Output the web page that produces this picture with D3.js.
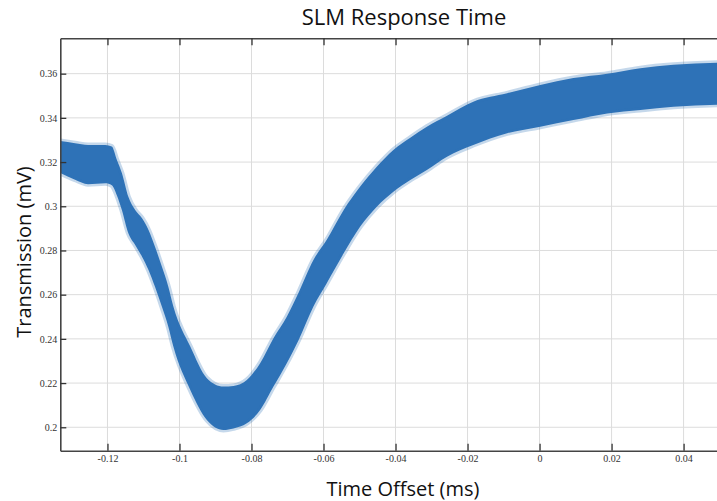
<!DOCTYPE html>
<html>
<head>
<meta charset="utf-8">
<script src="https://cdn.jsdelivr.net/npm/d3@7"></script>
<style>
  body { margin: 0; background: #fff; }
  .axis .tick text { font-family: "Liberation Serif", "Times New Roman", serif; font-size: 10px; fill: #333; }
  .axis path.domain { stroke: #444; stroke-width: 1.6px; }
  .axis .tick line { stroke: #333; stroke-width: 1.3px; }
  .grid line { stroke: #dcdcdc; stroke-width: 1px; }
  .label { font-family: "Open Sans", sans-serif; font-size: 20px; fill: #111; }
</style>
</head>
<body>
<svg id="chart" width="717" height="501"></svg>
<script>
// time offset (ms) with the upper / lower edge of the dense trace (mV)
const timeMs = [-0.1331, -0.1290, -0.1254, -0.1206, -0.1188, -0.1174, -0.1160, -0.1142, -0.1123, -0.1104,
  -0.1086, -0.1068, -0.1049, -0.1031, -0.1017, -0.0970, -0.0924, -0.0878, -0.0850, -0.0813,
  -0.0776, -0.0739, -0.0702, -0.0669, -0.0628, -0.0591, -0.0544, -0.0498, -0.0452, -0.0406,
  -0.0359, -0.0313, -0.0257, -0.0184, -0.0090, 0.0002, 0.0094, 0.0188, 0.0280, 0.0372, 0.0500];
const upperMv = [0.3295, 0.3285, 0.3277, 0.3277, 0.3270, 0.3210, 0.3150, 0.3043, 0.2983, 0.2946,
  0.2893, 0.2817, 0.2727, 0.2636, 0.2546, 0.2365, 0.2222, 0.2184, 0.2187, 0.2214,
  0.2290, 0.2403, 0.2500, 0.2610, 0.2757, 0.2848, 0.2983, 0.3089, 0.3179, 0.3255,
  0.3310, 0.3360, 0.3410, 0.3473, 0.3511, 0.3549, 0.3580, 0.3600, 0.3625, 0.3640, 0.3650];
const lowerMv = [0.3150, 0.3120, 0.3100, 0.3104, 0.3095, 0.3050, 0.2983, 0.2878, 0.2825, 0.2772,
  0.2712, 0.2636, 0.2546, 0.2455, 0.2365, 0.2169, 0.2033, 0.1988, 0.1995, 0.2018,
  0.2078, 0.2184, 0.2290, 0.2395, 0.2546, 0.2652, 0.2787, 0.2908, 0.2998, 0.3066,
  0.3119, 0.3164, 0.3224, 0.3277, 0.3330, 0.3360, 0.3390, 0.3420, 0.3436, 0.3450, 0.3460];

const xTicks = [-0.12, -0.1, -0.08, -0.06, -0.04, -0.02, 0, 0.02, 0.04];
const yTicks = [0.2, 0.22, 0.24, 0.26, 0.28, 0.3, 0.32, 0.34, 0.36];

const plot = { left: 60.3, right: 719.6, top: 38.3, bottom: 450.7 };

const x = d3.scaleLinear().domain([-0.1331, 0.05]).range([plot.left, plot.right]);
const y = d3.scaleLinear().domain([0.1894, 0.376]).range([plot.bottom, plot.top]);

const svg = d3.select("#chart");

svg.append("defs").append("clipPath")
  .attr("id", "plot-clip")
  .append("rect")
  .attr("x", plot.left)
  .attr("y", plot.top)
  .attr("width", plot.right - plot.left)
  .attr("height", plot.bottom - plot.top);

// grid
const grid = svg.append("g").attr("class", "grid");
grid.selectAll(".gx").data(xTicks).enter().append("line")
  .attr("x1", d => x(d)).attr("x2", d => x(d))
  .attr("y1", plot.top).attr("y2", plot.bottom);
grid.selectAll(".gy").data(yTicks).enter().append("line")
  .attr("x1", plot.left).attr("x2", plot.right)
  .attr("y1", d => y(d)).attr("y2", d => y(d));

// trace band
const trace = timeMs.map((t, i) => ({ t: t, hi: upperMv[i], lo: lowerMv[i] }));

const band = d3.area()
  .x(d => x(d.t))
  .y0(d => y(d.lo))
  .y1(d => y(d.hi))
  .curve(d3.curveMonotoneX);

svg.append("path")
  .datum(trace)
  .attr("clip-path", "url(#plot-clip)")
  .attr("d", band)
  .attr("fill", "#2e72b7")
  .attr("stroke", "#2e72b7")
  .attr("stroke-opacity", 0.28)
  .attr("stroke-width", 5)
  .attr("stroke-linejoin", "round");

// axes
const serif = '"Liberation Serif", "Times New Roman", serif';

svg.append("g")
  .attr("class", "axis")
  .attr("transform", `translate(0,${plot.bottom})`)
  .call(d3.axisBottom(x).tickValues(xTicks).tickFormat(String)
    .tickSizeInner(-7).tickSizeOuter(0).tickPadding(4))
  .attr("font-family", serif);

svg.append("g")
  .attr("class", "axis")
  .attr("transform", `translate(0,${plot.top})`)
  .call(d3.axisTop(x).tickValues(xTicks).tickFormat("")
    .tickSizeInner(-7).tickSizeOuter(0));

svg.append("g")
  .attr("class", "axis")
  .attr("transform", `translate(${plot.left},0)`)
  .call(d3.axisLeft(y).tickValues(yTicks).tickFormat(String)
    .tickSizeInner(-6).tickSizeOuter(0).tickPadding(3))
  .attr("font-family", serif);

// titles
svg.append("text")
  .attr("class", "label")
  .attr("x", 404).attr("y", 25)
  .attr("text-anchor", "middle")
  .style("font-size", "22px")
  .text("SLM Response Time");

svg.append("text")
  .attr("class", "label")
  .attr("x", 403).attr("y", 496)
  .attr("text-anchor", "middle")
  .text("Time Offset (ms)");

svg.append("text")
  .attr("class", "label")
  .attr("transform", "translate(31,252) rotate(-90)")
  .attr("text-anchor", "middle")
  .text("Transmission (mV)");
</script>
</body>
</html>
